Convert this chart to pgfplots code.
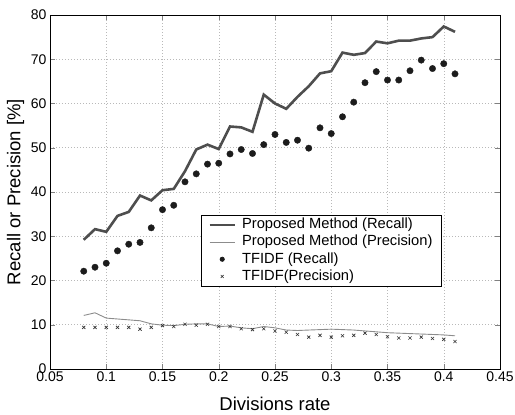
\documentclass[border=0pt]{standalone}
\usepackage{pgfplots}
\pgfplotsset{compat=1.18}
\usepackage{pgfplotstable}
\usepackage{fontspec}
\setmainfont{Liberation Sans}

\definecolor{recall}{RGB}{78,78,78}
\definecolor{prec}{RGB}{140,140,140}
\definecolor{dots}{RGB}{28,28,28}

\pgfplotsset{
  longline/.style={legend image code/.code={
    \path[draw=none, fill=none] (0pt,0pt) -- (30.1pt,0pt);
    \draw[##1] (0pt,0pt) -- (25pt,0pt);}},
  midmark/.style={legend image code/.code={
    \path[draw=none, fill=none] (0pt,0pt) -- (30.1pt,0pt);
    \draw[##1, mark size=2.1pt] plot coordinates {(12.5pt,0pt)};}},
}

% rate, proposed recall, proposed precision, tfidf recall, tfidf precision
\pgfplotstableread{
x     pr    pp    tr    tp
0.08  29.2  12.1  22.1  9.4
0.09  31.6  12.7  23.0  9.4
0.10  31.0  11.5  23.9  9.4
0.11  34.6  11.3  26.7  9.4
0.12  35.5  11.1  28.2  9.4
0.13  39.2  10.9  28.6  9.0
0.14  38.1  10.2  31.9  9.4
0.15  40.4   9.9  36.0  9.8
0.16  40.7   9.8  37.0  9.6
0.17  44.7  10.1  42.3  10.1
0.18  49.6  10.2  44.1  9.9
0.19  50.7  10.2  46.3  10.1
0.20  49.7   9.6  46.5  9.6
0.21  54.8   9.7  48.6  9.6
0.22  54.6   9.3  49.6  9.1
0.23  53.6   9.1  48.7  8.9
0.24  62.0   9.6  50.7  9.1
0.25  60.0   9.3  53.0  8.6
0.26  58.8   8.8  51.2  8.3
0.27  61.5   8.7  51.7  7.8
0.28  63.9   8.8  49.9  7.2
0.29  66.8   8.9  54.5  7.6
0.30  67.3   9.0  53.2  7.2
0.31  71.5   8.9  57.0  7.5
0.32  71.0   8.8  60.3  7.6
0.33  71.4   8.6  64.7  8.1
0.34  74.0   8.4  67.2  7.8
0.35  73.6   8.2  65.3  7.3
0.36  74.2   8.1  65.3  7.0
0.37  74.2   8.0  67.4  7.0
0.38  74.7   7.9  69.8  7.2
0.39  75.0   7.8  67.9  6.9
0.40  77.4   7.7  69.0  6.7
0.41  76.2   7.5  66.7  6.2
}\data

\begin{document}
\begin{tikzpicture}
\begin{axis}[
  name=ax,
  scale only axis,
  width=450pt, height=354pt,
  xmin=0.05, xmax=0.45, ymin=0, ymax=80,
  xtick={0.05,0.1,0.15,0.2,0.25,0.3,0.35,0.4,0.45},
  xticklabels={0.05,0.1,0.15,0.2,0.25,0.3,0.35,0.4,0.45},
  ytick={0,10,...,80},
  /pgf/number format/assume math mode=true,
  tick label style={font=\fontsize{14}{15}\selectfont},
  xticklabel style={anchor=base, yshift=-12.5pt},
  label style={font=\fontsize{18.5}{20}\selectfont},
  xlabel={Divisions rate},
  ylabel={Recall or Precision [\%]},
  xlabel style={at={(axis description cs:0.5,-0.117)}, anchor=base,
    inner sep=0pt, text depth=0pt},
  ylabel style={at={(axis description cs:-0.0656,0.5)}, anchor=base},
  tick align=inside,
  major tick length=5pt,
  axis line style={line width=0.9pt},
  grid=major,
  major grid style={gray!55, line width=0.5pt, dash pattern=on 1pt off 2pt},
  legend cell align=left,
  legend style={at={(0.3356,0.435)}, anchor=north west,
    font=\fontsize{14.7}{15}\selectfont, draw=black, line width=0.8pt,
    inner xsep=7pt, inner ysep=1pt, row sep=0.3pt, column sep=0pt,
    nodes={inner xsep=2.3pt, inner ysep=1.2pt, text height=11pt, text depth=3.5pt}},
]
  \addplot[recall, line width=2.6pt, longline] table[x=x, y=pr] {\data};
  \addlegendentry{Proposed Method (Recall)}
  \addplot[prec, line width=0.9pt, longline] table[x=x, y=pp] {\data};
  \addlegendentry{Proposed Method (Precision)}
  \addplot[only marks, mark=*, mark size=3.2pt, draw=dots, fill=dots, midmark]
    table[x=x, y=tr] {\data};
  \addlegendentry{TFIDF (Recall)}
  \addplot[only marks, mark=x, mark size=2.2pt, draw=black!80, line width=0.6pt, midmark]
    table[x=x, y=tp] {\data};
  \addlegendentry{TFIDF(Precision)}
\end{axis}
\pgfresetboundingbox
\path ([xshift=-50pt,yshift=-46pt]ax.south west) rectangle ([xshift=15pt,yshift=15pt]ax.north east);
\end{tikzpicture}
\end{document}
